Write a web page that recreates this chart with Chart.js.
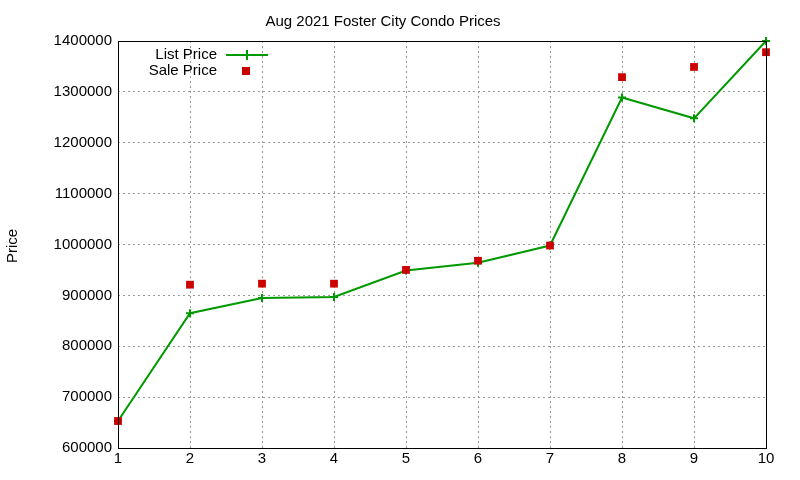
<!DOCTYPE html>
<html>
<head>
<meta charset="utf-8">
<script src="https://cdn.jsdelivr.net/npm/chart.js@4"></script>
<style>
  body { margin: 0; background: #fff; }
  #wrap { width: 800px; height: 480px; }
</style>
</head>
<body>
<div id="wrap"><canvas id="chart"></canvas></div>
<script>
// Dados
const unidades = [1, 2, 3, 4, 5, 6, 7, 8, 9, 10];
const precoLista = [653000, 865000, 895000, 897000, 949000, 964000, 998000, 1289000, 1248000, 1400000];
const precoVenda = [653000, 921000, 923000, 923000, 950000, 968000, 998000, 1329000, 1349000, 1378000];

const fonte = 'Liberation Sans, Arial, sans-serif';

// Moldura, título do eixo y e legenda no estilo gnuplot
const moldura = {
    id: 'moldura',
    afterDraw(chart) {
        const c = chart.ctx, a = chart.chartArea;
        c.save();
        c.strokeStyle = '#000';
        c.lineWidth = 1;
        c.strokeRect(a.left + 0.5, a.top + 0.5, a.right - a.left, a.bottom - a.top);
        c.fillStyle = '#000';
        c.font = '15px ' + fonte;
        c.translate(13, 246);
        c.rotate(-Math.PI / 2);
        c.textAlign = 'center';
        c.textBaseline = 'middle';
        c.fillText('Price', 0, 0);
        c.restore();

        c.save();
        c.font = '15px ' + fonte;
        c.fillStyle = '#000';
        c.textAlign = 'right';
        c.textBaseline = 'middle';
        c.fillText('List Price', 217, 55);
        c.fillText('Sale Price', 217, 71);
        c.strokeStyle = '#009900';
        c.lineWidth = 2;
        c.beginPath();
        c.moveTo(226, 55); c.lineTo(268, 55);
        c.moveTo(247, 50); c.lineTo(247, 60);
        c.stroke();
        c.fillStyle = '#cc0000';
        c.fillRect(242, 67, 8, 8);
        c.restore();
    }
};

new Chart(document.getElementById('chart'), {
    type: 'line',
    data: {
        datasets: [
            {
                label: 'List Price',
                data: unidades.map((x, i) => ({ x: x, y: precoLista[i] })),
                borderColor: '#009900',
                backgroundColor: '#009900',
                borderWidth: 2,
                pointStyle: 'cross',
                pointRadius: 4,
                pointBorderWidth: 2,
                tension: 0,
                fill: false,
                clip: false,
                order: 1
            },
            {
                label: 'Sale Price',
                data: unidades.map((x, i) => ({ x: x, y: precoVenda[i] })),
                showLine: false,
                borderColor: '#cc0000',
                backgroundColor: '#cc0000',
                pointStyle: 'rect',
                pointRadius: 5.5,
                pointBorderWidth: 0,
                clip: false,
                order: 0
            }
        ]
    },
    options: {
        responsive: true,
        maintainAspectRatio: false,
        animation: false,
        layout: { padding: { top: 0, right: 34, bottom: 0, left: 0 } },
        plugins: {
            legend: { display: false },
            tooltip: { enabled: false },
            title: {
                display: true,
                text: 'Aug 2021 Foster City Condo Prices',
                color: '#000',
                font: { family: fonte, size: 15, weight: 'normal' },
                padding: { top: 13, bottom: 10 }
            }
        },
        scales: {
            x: {
                type: 'linear',
                min: 1,
                max: 10,
                ticks: { stepSize: 1, color: '#000', font: { family: fonte, size: 15 }, padding: 2 },
                grid: { color: '#999', tickLength: 0, drawTicks: false },
                border: { display: false, dash: [2, 3] },
                afterFit(s) { s.height = 32; }
            },
            y: {
                min: 600000,
                max: 1400000,
                ticks: {
                    stepSize: 100000, color: '#000', font: { family: fonte, size: 15 }, padding: 6,
                    callback: function(value) { return String(value); }
                },
                grid: { color: '#999', drawTicks: false },
                border: { display: false, dash: [2, 3] },
                afterFit(s) { s.width = 118; }
            }
        }
    },
    plugins: [moldura]
});
</script>
</body>
</html>
